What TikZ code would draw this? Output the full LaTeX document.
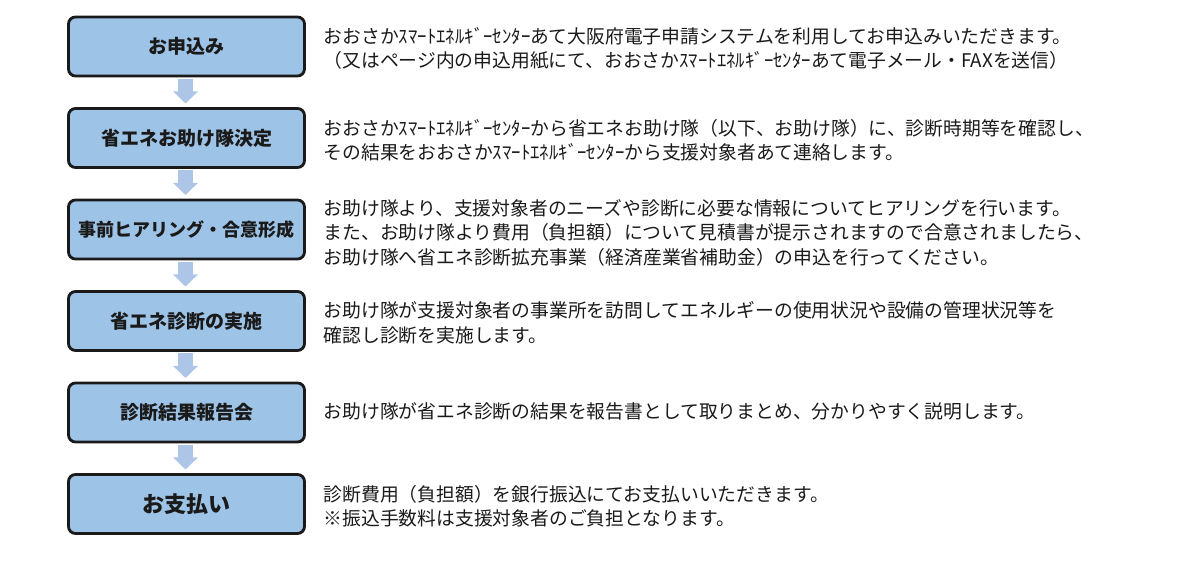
\documentclass[tikz,border=0pt]{standalone}
\usepackage{fontspec}
\usepackage{tikz}
\usetikzlibrary{positioning,arrows.meta}
\newfontfamily\jpfont{Noto Sans CJK JP}
\definecolor{boxblue}{HTML}{9DC3E6}
\definecolor{arrowblue}{HTML}{ADC6E8}
\definecolor{inkgray}{HTML}{1A1A1A}
\tikzset{
  stepbox/.style={draw=inkgray, line width=2.8pt, rounded corners=7pt, fill=boxblue,
    minimum width=236pt, minimum height=59pt, outer sep=0pt, inner sep=0pt,
    font=\jpfont\bfseries\fontsize{19}{23}\selectfont, text=inkgray},
  note/.style={anchor=west, align=left, inner sep=0pt, text=inkgray,
    font=\jpfont\fontsize{18.8}{24.5}\selectfont},
  flow/.style={draw=arrowblue, line width=15pt,
    -{Triangle[width=24pt,length=12pt]}}
}
\begin{document}
\begin{tikzpicture}[x=1pt,y=1pt,node distance=32.5pt]
  \useasboundingbox (0,0) rectangle (1200,573);

  % flow steps
  \node[stepbox] (apply) at (186.5,526.5) {お申込み};
  \node[stepbox, below=of apply] (team) {省エネお助け隊決定};
  \node[stepbox, below=of team, font=\jpfont\bfseries\fontsize{18}{22}\selectfont] (hearing) {事前ヒアリング・合意形成};
  \node[stepbox, below=of hearing] (audit) {省エネ診断の実施};
  \node[stepbox, below=of audit] (report) {診断結果報告会};
  \node[stepbox, below=of report, font=\jpfont\bfseries\fontsize{22}{26}\selectfont] (pay) {お支払い};

  % arrows between steps
  \foreach \a/\b in {apply/team, team/hearing, hearing/audit, audit/report, report/pay}
    \draw[flow] ([xshift=-1pt,yshift=-3pt]\a.south) -- ([xshift=-1pt,yshift=5pt]\b.north);

  % explanations
  \node[note, right=19pt of apply.east, yshift=-2pt] (applytxt)
    {おおさかｽﾏｰﾄｴﾈﾙｷﾞｰｾﾝﾀｰあて大阪府電子申請システムを利用してお申込みいただきます。\\
     （又はページ内の申込用紙にて、おおさかｽﾏｰﾄｴﾈﾙｷﾞｰｾﾝﾀｰあて電子メール・FAXを送信）};
  \node[note, right=19pt of team.east, yshift=-2pt] (teamtxt)
    {おおさかｽﾏｰﾄｴﾈﾙｷﾞｰｾﾝﾀｰから省エネお助け隊（以下、お助け隊）に、診断時期等を確認し、\\
     その結果をおおさかｽﾏｰﾄｴﾈﾙｷﾞｰｾﾝﾀｰから支援対象者あて連絡します。};
  \node[note, right=19pt of hearing.east, yshift=-3pt] (hearingtxt)
    {お助け隊より、支援対象者のニーズや診断に必要な情報についてヒアリングを行います。\\
     また、お助け隊より費用（負担額）について見積書が提示されますので合意されましたら、\\
     お助け隊へ省エネ診断拡充事業（経済産業省補助金）の申込を行ってください。};
  \node[note, right=19pt of audit.east, yshift=-2pt] (audittxt)
    {お助け隊が支援対象者の事業所を訪問してエネルギーの使用状況や設備の管理状況等を\\
     確認し診断を実施します。};
  \node[note, right=19pt of report.east, yshift=1pt] (reporttxt)
    {お助け隊が省エネ診断の結果を報告書として取りまとめ、分かりやすく説明します。};
  \node[note, right=19pt of pay.east, yshift=-2pt] (paytxt)
    {診断費用（負担額）を銀行振込にてお支払いいただきます。\\
     ※振込手数料は支援対象者のご負担となります。};
\end{tikzpicture}
\end{document}
